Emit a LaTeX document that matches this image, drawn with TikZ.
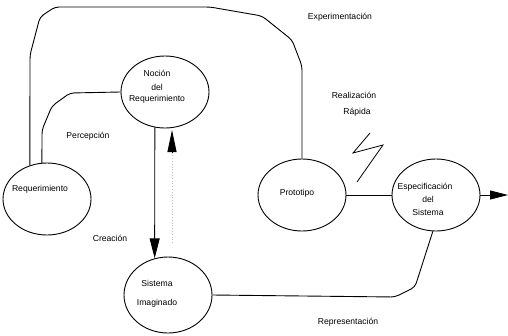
\documentclass[tikz,border=0pt]{standalone}
\usepackage{fontspec}
\setmainfont{Liberation Sans}
\usetikzlibrary{shapes.geometric,arrows.meta}

\tikzset{
  bubble/.style={draw, ellipse, line width=0.9pt, minimum width=88pt, minimum height=72pt, inner sep=0pt},
  txt/.style={font=\fontsize{8.6}{10}\selectfont, inner sep=1pt},
  link/.style={line width=0.9pt, rounded corners=4pt},
  bigtip/.style={-{Triangle[length=20pt, width=10pt]}}
}

\begin{document}
\begin{tikzpicture}[x=1pt, y=-1pt]
        % Fix the page to the size of the scan
        \useasboundingbox (0,0) rectangle (508,335);

        % The five bubbles
        \node[bubble] (noc) at (165,92) {};
        \node[bubble] (req) at (47,199) {};
        \node[bubble, minimum height=76pt] (sis) at (168,295) {};
        \node[bubble] (proto) at (302,195) {};
        \node[bubble] (esp) at (436,195) {};

        % Texts inside the bubbles
        \node[txt] (noc1) at (157,73) {Noción};
        \node[txt] (noc2) at (157,87) {del};
        \node[txt] (noc3) at (157,99) {Requerimiento};
        \node[txt] (req1) at (40,189) {Requerimiento};
        \node[txt] (sis1) at (157,283) {Sistema};
        \node[txt] (sis2) at (157,303) {Imaginado};
        \node[txt] (proto1) at (297,193) {Prototipo};
        \node[txt] (esp1) at (425,187) {Especificación};
        \node[txt] (esp2) at (428,199) {del};
        \node[txt] (esp3) at (428,212) {Sistema};

        % Labels of the links
        \node[txt] (lexp) at (340,17) {Experimentación};
        \node[txt] (lrea1) at (354,95) {Realización};
        \node[txt] (lrea2) at (357,112) {Rápida};
        \node[txt] (lper) at (88,136) {Percepción};
        \node[txt] (lcre) at (110,238) {Creación};
        \node[txt] (lrep) at (348,322) {Representación};

        % Experimentacion: Requerimiento round the top to Prototipo
        \draw[link] (req.117) -- (30,55) -- (40,17) -- (55,7) -- (210,7)
                -- (262,16) -- (292,40) -- (302,66) -- (proto.north);

        % Percepcion: Nocion to Requerimiento
        \draw[link] (noc.west) -- (70,93) -- (52,106) -- (42,130) -- (req.98);

        % Creacion: Nocion down to Sistema Imaginado
        \draw[line width=0.9pt, bigtip] (noc.254) -- (sis.110);

        % faint dotted way back up
        \coordinate (dotend) at (172,243);
        \draw[gray!50, dotted, line width=0.8pt] (dotend) -- (172,150);
        \draw[line width=0.9pt, -{Triangle[length=22pt, width=9pt]}] (172,152) -- (172,130);

        % Representacion: Sistema Imaginado to Especificacion
        \draw[link] (sis.east) -- (395,297) -- (415,287) -- (esp.265);

        % Prototipo to Especificacion, and out to the right
        \draw[line width=0.9pt] (proto.east) -- (esp.west);
        \coordinate (out) at (508,195);
        \draw[line width=0.9pt, -{Triangle[length=18pt, width=9pt]}] (esp.east) -- (out);

        % flash between the labels and the bubbles
        \draw[line width=0.8pt] (370,133) -- (353,153) -- (383,145) -- (357,182);
    \end{tikzpicture}
\end{document}
